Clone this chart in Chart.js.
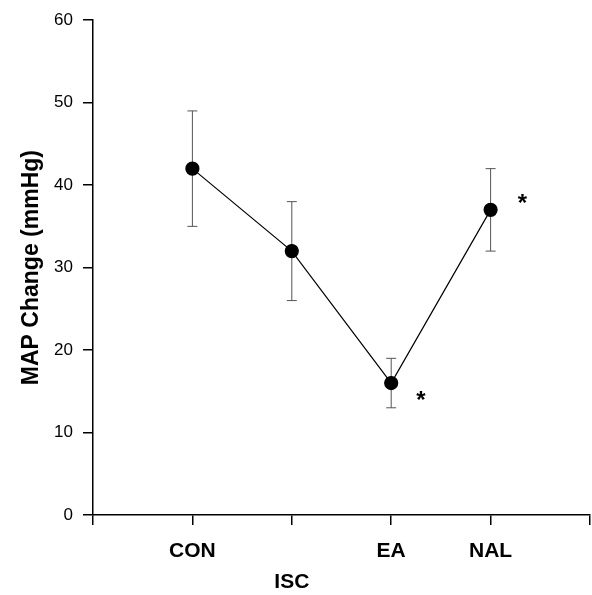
<!DOCTYPE html>
<html>
<head>
<meta charset="utf-8">
<script src="https://cdn.jsdelivr.net/npm/chart.js@4/dist/chart.umd.min.js"></script>
<style>
  html, body { margin: 0; padding: 0; background: #fff; overflow: hidden; }
  #wrap { width: 592px; height: 595px; }
</style>
</head>
<body>
<div id="wrap"><canvas id="mapChart"></canvas></div>
<script>
// groups along the x axis (positions 1..4)
const groups = ['CON', 'ISC', 'EA', 'NAL'];
const mapChange = [42, 32, 16, 37];
const errLow = [35, 26, 13, 32];
const errHigh = [49, 38, 19, 42];
const yTicks = [0, 10, 20, 30, 40, 50, 60];

// significance marks (x in group units, y in mmHg)
const starX = [3.3, 4.32];
const starY = [14.4, 38.3];

const FONT = "'Liberation Sans', Arial, Helvetica, sans-serif";

const points = mapChange.map((v, i) => ({ x: i + 1, y: v }));

const errorBars = {
    id: 'errorBars',
    beforeDatasetsDraw(chart) {
        const ctx = chart.ctx;
        const xs = chart.scales.x, ys = chart.scales.y;
        ctx.save();
        ctx.strokeStyle = '#555';
        ctx.lineWidth = 1;
        groups.forEach((g, i) => {
            const px = xs.getPixelForValue(i + 1);
            const top = ys.getPixelForValue(errHigh[i]);
            const bot = ys.getPixelForValue(errLow[i]);
            ctx.beginPath();
            ctx.moveTo(px, top); ctx.lineTo(px, bot);
            ctx.moveTo(px - 5, top); ctx.lineTo(px + 5, top);
            ctx.moveTo(px - 5, bot); ctx.lineTo(px + 5, bot);
            ctx.stroke();
        });
        ctx.restore();
    },
    afterDatasetsDraw(chart) {
        const ctx = chart.ctx;
        const xs = chart.scales.x, ys = chart.scales.y;
        ctx.save();
        ctx.fillStyle = '#000';
        ctx.font = 'bold 24px ' + FONT;
        ctx.textAlign = 'center';
        ctx.textBaseline = 'alphabetic';
        starX.forEach((sx, i) => {
            ctx.fillText('*', xs.getPixelForValue(sx), ys.getPixelForValue(starY[i]) + 12);
        });
        ctx.restore();
    }
};

new Chart(document.getElementById('mapChart').getContext('2d'), {
    type: 'line',
    data: {
        datasets: [{
            data: points,
            borderColor: '#000',
            borderWidth: 1.2,
            backgroundColor: '#000',
            pointBackgroundColor: '#000',
            pointBorderColor: '#000',
            pointRadius: 6.5,
            tension: 0
        }]
    },
    options: {
        responsive: true,
        maintainAspectRatio: false,
        animation: false,
        layout: { autoPadding: false, padding: { top: 20, right: 2, left: 0, bottom: 0 } },
        plugins: { legend: { display: false }, tooltip: { enabled: false } },
        scales: {
            x: {
                type: 'linear',
                min: 0,
                max: 5,
                afterFit(scale) {
                    scale.height = 80;
                    scale.paddingLeft = 0;
                    scale.paddingRight = 0;
                },
                afterBuildTicks(scale) {
                    scale.ticks = [0, 1, 2, 3, 4, 5].map(v => ({ value: v }));
                },
                border: { color: '#000', width: 1.5 },
                grid: { drawOnChartArea: false, color: '#000', lineWidth: 1.5, tickLength: 10 },
                ticks: {
                    color: '#000',
                    padding: 11,
                    maxRotation: 0,
                    autoSkip: false,
                    font: { family: FONT, size: 21, weight: 'bold', lineHeight: 1.476 },
                    callback(v) {
                        const label = groups[v - 1];
                        if (!label) return '';
                        // ISC sits one line lower than the other labels
                        return v === 2 ? ['', label] : label;
                    }
                }
            },
            y: {
                min: 0,
                max: 60,
                afterFit(scale) { scale.width = 93; },
                afterBuildTicks(scale) {
                    scale.ticks = yTicks.map(v => ({ value: v }));
                },
                border: { color: '#000', width: 1.5 },
                grid: { drawOnChartArea: false, color: '#000', lineWidth: 1.5, tickLength: 10 },
                ticks: {
                    color: '#000',
                    padding: 10,
                    font: { family: FONT, size: 17 }
                },
                title: {
                    display: true,
                    text: 'MAP Change (mmHg)',
                    color: '#000',
                    padding: { top: 18, bottom: 0 },
                    font: { family: FONT, size: 23, weight: 'bold', lineHeight: 1.2 }
                }
            }
        }
    },
    plugins: [errorBars]
});
</script>
</body>
</html>
